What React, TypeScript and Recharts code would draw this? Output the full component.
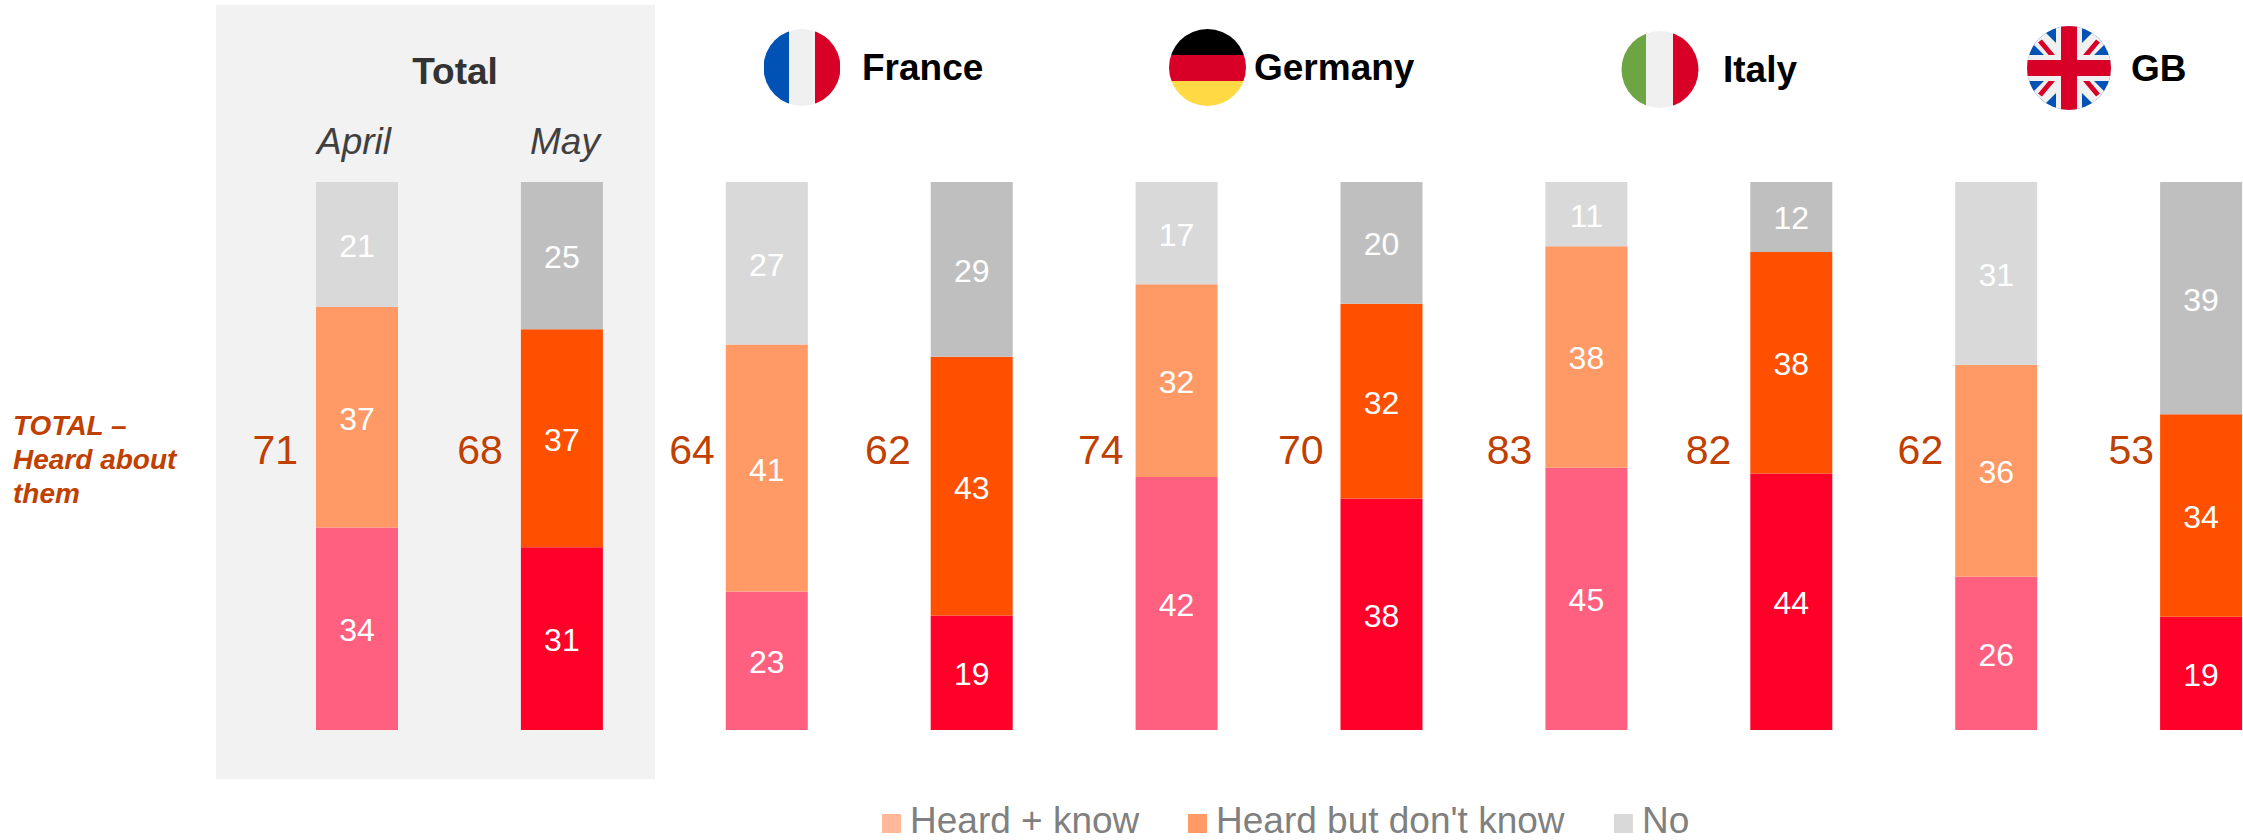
import React from "react";
import { BarChart, Bar, XAxis, YAxis, Cell, LabelList, Legend } from "recharts";

const categories = ["Total April", "Total May", "France April", "France May", "Germany April", "Germany May", "Italy April", "Italy May", "GB April", "GB May"];
const heardKnow = [34, 31, 23, 19, 42, 38, 45, 44, 26, 19];
const heardDontKnow = [37, 37, 41, 43, 32, 32, 38, 38, 36, 34];
const notHeard = [21, 25, 27, 29, 17, 20, 11, 12, 31, 39];
const heardTotal = [71, 68, 64, 62, 74, 70, 83, 82, 62, 53];
const rows = categories.map((category, i) => ({
  category,
  know: heardKnow[i],
  dontKnow: heardDontKnow[i],
  no: notHeard[i],
  total: heardTotal[i],
}));

const KNOW = ["#FF6080", "#FF0029"];
const DONT = ["#FF9966", "#FF5000"];
const NO = ["#D9D9D9", "#BFBFBF"];
const totalGaps = [18, 18, 11, 20, 12, 17, 13, 19, 12, 6];
const FONT = "'Liberation Sans', Arial, sans-serif";
const RUST = "#BF4000";

const valueLabel = (props: any) => {
  const { x, y, width, height, value } = props;
  return (
    <text x={x + width / 2} y={y + height / 2 + 12.5} textAnchor="middle" fontFamily={FONT} fontSize={32} fill="#FFFFFF">
      {value}
    </text>
  );
};

const totalLabel = (props: any) => {
  const { x, value, index } = props;
  return (
    <text x={x - totalGaps[index]} y={464} textAnchor="end" fontFamily={FONT} fontSize={41} fill={RUST}>
      {value}
    </text>
  );
};

const legendContent = ({ payload }: any) => (
  <div style={{ position: "relative", width: 2243, height: 40, fontFamily: FONT, fontSize: 37, color: "#808080" }}>
    {(payload || []).map((p: any, i: number) => {
      const lefts = [882, 1188, 1614];
      return (
        <div key={p.value} style={{ position: "absolute", left: lefts[i], top: 0, display: "flex", alignItems: "flex-start", whiteSpace: "nowrap" }}>
          <span style={{ width: 19, height: 19, marginTop: 14, marginRight: 9, background: p.color, display: "block" }} />
          <span style={{ lineHeight: "38px", marginTop: 2 }}>{p.value}</span>
        </div>
      );
    })}
  </div>
);

const headerText = (x: number, y: number, label: string, fill = "#000000") => (
  <text x={x} y={y} fontFamily={FONT} fontWeight={700} fontSize={37} fill={fill}>
    {label}
  </text>
);

const UnionJack = () => (
  <g>
    <clipPath id="gbClip"><circle cx={2069} cy={68} r={42} /></clipPath>
    <g clipPath="url(#gbClip)">
      <rect x={2027} y={26} width={84} height={84} fill="#0052B4" />
      <path d="M2027 26L2111 110M2111 26L2027 110" stroke="#F0F0F0" strokeWidth={17} />
      <path d="M2040 41L2061 66M2098 41L2077 66M2040 95L2061 70M2098 95L2077 70" stroke="#D80027" strokeWidth={5} />
      <rect x={2027} y={55} width={84} height={26} fill="#F0F0F0" />
      <rect x={2056} y={26} width={26} height={84} fill="#F0F0F0" />
      <rect x={2027} y={60} width={84} height={16} fill="#D80027" />
      <rect x={2061} y={26} width={16} height={84} fill="#D80027" />
    </g>
  </g>
);

const Decorations = () => (
  <g>
    <rect x={216} y={5} width={439} height={774} fill="#F2F2F2" />

    <clipPath id="frClip"><circle cx={802} cy={67.5} r={38.5} /></clipPath>
    <g clipPath="url(#frClip)">
      <rect x={764} y={29} width={25} height={77} fill="#0052B4" />
      <rect x={789} y={29} width={27} height={77} fill="#F0F0F0" />
      <rect x={815} y={29} width={25} height={77} fill="#D80027" />
    </g>
    <clipPath id="deClip"><circle cx={1207.5} cy={67.5} r={38.5} /></clipPath>
    <g clipPath="url(#deClip)">
      <rect x={1169} y={29} width={77} height={26} fill="#000000" />
      <rect x={1169} y={55} width={77} height={26} fill="#D80027" />
      <rect x={1169} y={81} width={77} height={26} fill="#FFDA44" />
    </g>
    <clipPath id="itClip"><circle cx={1660} cy={69.5} r={38.5} /></clipPath>
    <g clipPath="url(#itClip)">
      <rect x={1621} y={31} width={25} height={77} fill="#6DA544" />
      <rect x={1646} y={31} width={27} height={77} fill="#F0F0F0" />
      <rect x={1673} y={31} width={26} height={77} fill="#D80027" />
    </g>
    <UnionJack />

    <text x={455} y={84} textAnchor="middle" fontFamily={FONT} fontWeight={700} fontSize={37} fill="#333333">Total</text>
    <text x={354} y={154} textAnchor="middle" fontFamily={FONT} fontStyle="italic" fontSize={37} fill="#404040">April</text>
    <text x={565} y={154} textAnchor="middle" fontFamily={FONT} fontStyle="italic" fontSize={37} fill="#404040">May</text>
    {headerText(862, 80, "France")}
    {headerText(1254, 80, "Germany")}
    {headerText(1723, 82, "Italy")}
    {headerText(2131, 81, "GB")}

    <g fontFamily={FONT} fontWeight={700} fontStyle="italic" fontSize={28} fill={RUST}>
      <text x={13} y={435}>TOTAL –</text>
      <text x={13} y={469}>Heard about</text>
      <text x={13} y={503}>them</text>
    </g>
  </g>
);

export default function App() {
  return (
    <div style={{ position: "absolute", left: 0, top: 0, width: 2243, height: 840, overflow: "hidden" }}>
      <BarChart
        width={2243}
        height={840}
        data={rows}
        stackOffset="expand"
        barSize={82}
        margin={{ top: 182, bottom: 70, left: 255, right: -61 }}
      >
        <Decorations />
        <XAxis dataKey="category" hide />
        <YAxis hide domain={[0, 1]} />
        <Legend
          content={legendContent}
          wrapperStyle={{ position: "absolute", left: 0, top: 800, width: 2243, height: 40 }}
        />
        <Bar dataKey="know" name="Heard + know" stackId="a" fill="#FFB89A" isAnimationActive={false}>
          {rows.map((r, i) => <Cell key={r.category} fill={KNOW[i % 2]} />)}
          <LabelList dataKey="know" content={valueLabel} />
          <LabelList dataKey="total" content={totalLabel} />
        </Bar>
        <Bar dataKey="dontKnow" name="Heard but don't know" stackId="a" fill="#FF9966" isAnimationActive={false}>
          {rows.map((r, i) => <Cell key={r.category} fill={DONT[i % 2]} />)}
          <LabelList dataKey="dontKnow" content={valueLabel} />
        </Bar>
        <Bar dataKey="no" name="No" stackId="a" fill="#D9D9D9" isAnimationActive={false}>
          {rows.map((r, i) => <Cell key={r.category} fill={NO[i % 2]} />)}
          <LabelList dataKey="no" content={valueLabel} />
        </Bar>
      </BarChart>
    </div>
  );
}
